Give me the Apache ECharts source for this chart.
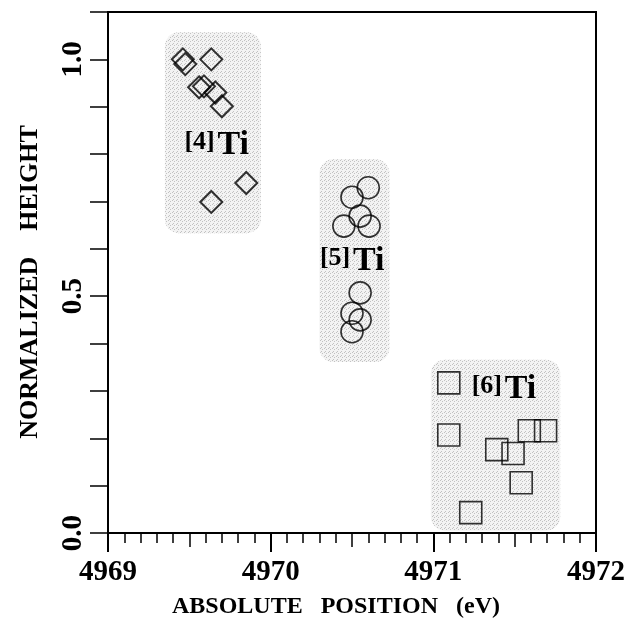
<!DOCTYPE html>
<html><head><meta charset="utf-8">
<script src="https://cdn.jsdelivr.net/npm/echarts/dist/echarts.min.js"></script>
<style>html,body{margin:0;padding:0;background:#fff}#c{width:625px;height:621px}</style>
</head><body><div id="c"></div>
<script>
// ---- data ----
const ti4X = [4969.46, 4969.475, 4969.635, 4969.56, 4969.59, 4969.66, 4969.70, 4969.85, 4969.635];
const ti4Y = [1.000, 0.990, 1.000, 0.941, 0.943, 0.930, 0.901, 0.739, 0.699];
const ti5X = [4970.60, 4970.50, 4970.55, 4970.45, 4970.605, 4970.55, 4970.50, 4970.55, 4970.50];
const ti5Y = [0.729, 0.709, 0.669, 0.648, 0.648, 0.507, 0.464, 0.450, 0.425];
const ti6X = [4971.095, 4971.095, 4971.39, 4971.49, 4971.59, 4971.69, 4971.54, 4971.23];
const ti6Y = [0.317, 0.207, 0.176, 0.168, 0.216, 0.216, 0.106, 0.043];
// shaded groups: [xMin, xMax, yMin, yMax]
const groupBoxes = [
  [4969.35, 4969.94, 0.633, 1.057],
  [4970.30, 4970.73, 0.361, 0.789],
  [4970.985, 4971.78, 0.005, 0.366]
];
// group labels: [x, y (top-left of label), coordination number]
const groupLabels = [
  [4969.476, 0.844, 4],
  [4970.309, 0.600, 5],
  [4971.242, 0.328, 6]
];
const xMin = 4969, xMax = 4972, xStep = 1;
const yMin = 0, yMax = 1.1, yStep = 0.1;
const xTitle = 'ABSOLUTE   POSITION   (eV)';
const yTitle = 'NORMALIZED    HEIGHT';

const zip = (a, b) => a.map((v, i) => [v, b[i]]);
const FONT = '"Liberation Serif", "DejaVu Serif", serif';

// stipple pattern for the shaded groups
const pc = document.createElement('canvas');
pc.width = 4; pc.height = 4;
const pctx = pc.getContext('2d');
pctx.fillStyle = '#f3f3f3'; pctx.fillRect(0, 0, 4, 4);
pctx.fillStyle = '#c2c2c2';
[[0,0],[2,1],[1,3]].forEach(p => pctx.fillRect(p[0], p[1], 1, 1));

const chart = echarts.init(document.getElementById('c'), null, {renderer: 'canvas'});
const markerStyle = {color: 'rgba(0,0,0,0)', borderColor: '#000', borderWidth: 1.6};

chart.setOption({
  animation: false,
  backgroundColor: '#fff',
  grid: {left: 108, top: 12, right: 29, bottom: 88, show: true, borderColor: '#000', borderWidth: 2,
         containLabel: false, outerBoundsMode: 'none'},
  xAxis: [{
    type: 'value', min: xMin, max: xMax, interval: xStep, position: 'bottom',
    axisLine: {show: true, onZero: false, lineStyle: {color: '#000', width: 2}},
    axisTick: {show: true, length: 19, lineStyle: {color: '#000', width: 2}},
    minorTick: {show: true, splitNumber: 10, length: 10, lineStyle: {color: '#000', width: 1.5}},
    splitLine: {show: false},
    axisLabel: {margin: 25, color: '#000', fontFamily: FONT, fontWeight: 'bold', fontSize: 29,
                formatter: v => String(Math.round(v))}
  }, {
    type: 'value', min: xMin, max: xMax, interval: 0.5, position: 'bottom', offset: 0,
    axisLine: {show: false},
    axisTick: {show: true, length: 14, lineStyle: {color: '#000', width: 1.5}},
    axisLabel: {show: false}, splitLine: {show: false}
  }],
  yAxis: {
    type: 'value', min: yMin, max: yMax, interval: yStep,
    axisLine: {show: true, onZero: false, lineStyle: {color: '#000', width: 2}},
    axisTick: {show: true, length: 18, lineStyle: {color: '#000', width: 1.5}},
    splitLine: {show: false},
    axisLabel: {rotate: 90, margin: 20, color: '#000', fontFamily: FONT, fontWeight: 'bold', fontSize: 29,
      formatter: v => (Math.abs(v * 2 - Math.round(v * 2)) < 1e-6 ? v.toFixed(1) : '')}
  },
  graphic: [
    {type: 'text', x: 336, y: 607, style: {text: xTitle, font: 'bold 24px ' + FONT, fill: '#000', align: 'center', verticalAlign: 'middle'}},
    {type: 'text', x: 30, y: 282, rotation: Math.PI / 2, style: {text: yTitle, font: 'bold 26px ' + FONT, fill: '#000', align: 'center', verticalAlign: 'middle'}}
  ],
  series: [
    {
      type: 'custom', silent: true, z: 1, encode: {x: [0, 1], y: [2, 3]},
      data: groupBoxes,
      renderItem: (params, api) => {
        const a = api.coord([api.value(0), api.value(3)]);
        const b = api.coord([api.value(1), api.value(2)]);
        return {type: 'rect', shape: {x: a[0], y: a[1], width: b[0] - a[0], height: b[1] - a[1], r: 14},
                style: {fill: {image: pc, repeat: 'repeat'}}};
      }
    },
    {
      type: 'custom', silent: true, z: 3, encode: {x: 0, y: 1},
      data: groupLabels,
      renderItem: (params, api) => {
        const p = api.coord([api.value(0), api.value(1)]);
        const n = api.value(2);
        return {type: 'group', children: [
          {type: 'text', x: p[0] - 1, y: p[1] - 4, style: {text: '[' + n + ']', font: 'bold 26px ' + FONT, fill: '#000', align: 'left', verticalAlign: 'top'}},
          {type: 'text', x: p[0] + 32, y: p[1] - 5, style: {text: 'Ti', font: 'bold 34px ' + FONT, fill: '#000', align: 'left', verticalAlign: 'top'}}
        ]};
      }
    },
    {type: 'scatter', z: 4, symbol: 'diamond', symbolSize: 22, itemStyle: {color: 'rgba(0,0,0,0)', borderColor: '#000', borderWidth: 2}, data: zip(ti4X, ti4Y)},
    {type: 'scatter', z: 4, symbol: 'circle', symbolSize: 22, itemStyle: markerStyle, data: zip(ti5X, ti5Y)},
    {type: 'scatter', z: 4, symbol: 'rect', symbolSize: 22, itemStyle: markerStyle, data: zip(ti6X, ti6Y)}
  ]
});
</script>
</body></html>
